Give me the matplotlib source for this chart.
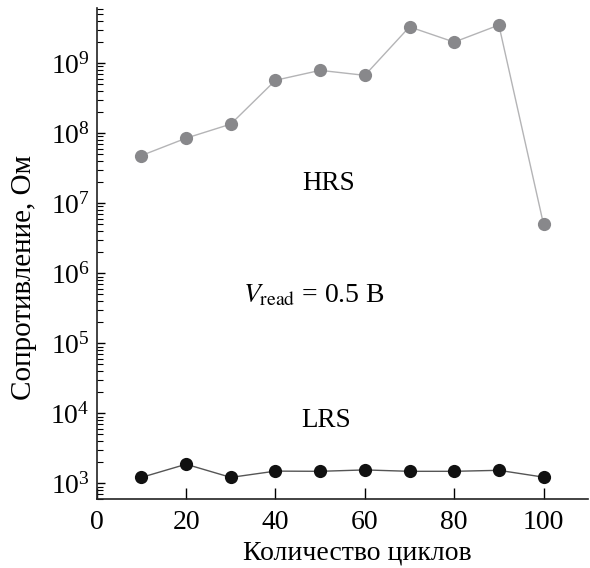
import numpy as np
import matplotlib
matplotlib.use('Agg')
import matplotlib.pyplot as plt
from matplotlib.ticker import FixedLocator, NullFormatter, LogFormatterMathtext

plt.rcParams['font.family'] = ['Liberation Serif', 'DejaVu Serif']
plt.rcParams['mathtext.fontset'] = 'stix'

cycles = [10, 20, 30, 40, 50, 60, 70, 80, 90, 100]
hrs = [4.8e7, 8.5e7, 1.35e8, 5.7e8, 7.9e8, 6.7e8, 3.3e9, 2.0e9, 3.5e9, 5.0e6]
lrs = [1.22e3, 1.88e3, 1.22e3, 1.5e3, 1.49e3, 1.56e3, 1.49e3, 1.49e3, 1.54e3, 1.23e3]
xticks = [0, 20, 40, 60, 80, 100]
yticks = [1e3, 1e4, 1e5, 1e6, 1e7, 1e8, 1e9]

fig = plt.figure(figsize=(5.9, 5.68), dpi=100)
ax = fig.add_axes([0.164, 0.1215, 0.833, 0.865])

ax.plot(cycles, hrs, '-', color='#b4b4b6', lw=1.0, zorder=1)
ax.plot(cycles, hrs, 'o', color='#88888b', ms=9.5, mec='none', zorder=2)
ax.plot(cycles, lrs, '-', color='#555555', lw=1.0, zorder=1)
ax.plot(cycles, lrs, 'o', color='#111111', ms=9.5, mec='none', zorder=2)

ax.set_yscale('log')
ax.set_xlim(0, 110)
ax.set_ylim(6e2, 6.2e9)
ax.set_xticks(xticks)
ax.yaxis.set_major_locator(FixedLocator(yticks))
minor = [m * 10.0 ** e for e in range(2, 10) for m in range(2, 10)]
minor = [v for v in minor if 6e2 <= v <= 6.2e9]
ax.yaxis.set_minor_locator(FixedLocator(minor))
ax.yaxis.set_minor_formatter(NullFormatter())
ax.yaxis.set_major_formatter(LogFormatterMathtext())

ax.spines['top'].set_visible(False)
ax.spines['right'].set_visible(False)
for s in ['left', 'bottom']:
    ax.spines[s].set_linewidth(1.2)
    ax.spines[s].set_color('#222222')

ax.tick_params(axis='x', direction='in', length=8, width=1.0, labelsize=20, pad=8)
ax.tick_params(axis='y', which='major', direction='in', length=6, width=1.0, labelsize=20, pad=5)
ax.tick_params(axis='y', which='minor', direction='in', length=4, width=0.8)

ax.set_xlabel('Количество циклов', fontsize=20, labelpad=2)
ax.xaxis.set_label_coords(0.53, -0.084)
ax.set_ylabel('Сопротивление, Ом', fontsize=21)
ax.yaxis.set_label_coords(-0.121, 0.45)

ax.text(51.8, 1.9e7, 'HRS', fontsize=19.5, ha='center', va='center')
ax.text(51.3, 7.9e3, 'LRS', fontsize=19.5, ha='center', va='center')
ax.text(48.5, 4.8e5, r'$V_{\mathrm{read}}$ = 0.5 В', fontsize=20, ha='center', va='center')

fig.savefig('out.png', dpi=100)
